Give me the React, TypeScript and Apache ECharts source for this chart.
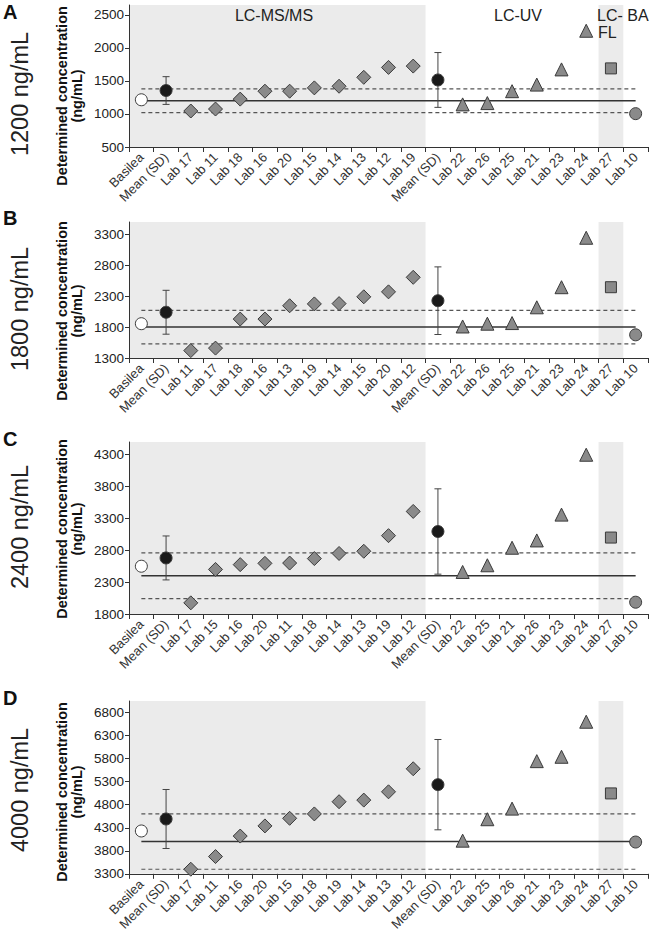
import React, { useEffect, useRef } from "react";
import * as echarts from "echarts";

// ---------- DATA ----------
const catsA = ["Basilea", "Mean (SD)", "Lab 17", "Lab 11", "Lab 18", "Lab 16", "Lab 20", "Lab 15", "Lab 14", "Lab 13", "Lab 12", "Lab 19", "Mean (SD)", "Lab 22", "Lab 26", "Lab 25", "Lab 21", "Lab 23", "Lab 24", "Lab 27", "Lab 10"];
const catsB = ["Basilea", "Mean (SD)", "Lab 11", "Lab 17", "Lab 18", "Lab 16", "Lab 13", "Lab 19", "Lab 14", "Lab 15", "Lab 20", "Lab 12", "Mean (SD)", "Lab 22", "Lab 26", "Lab 25", "Lab 21", "Lab 23", "Lab 24", "Lab 27", "Lab 10"];
const catsC = ["Basilea", "Mean (SD)", "Lab 17", "Lab 15", "Lab 16", "Lab 20", "Lab 11", "Lab 18", "Lab 14", "Lab 13", "Lab 19", "Lab 12", "Mean (SD)", "Lab 22", "Lab 25", "Lab 21", "Lab 26", "Lab 23", "Lab 24", "Lab 27", "Lab 10"];
const catsD = ["Basilea", "Mean (SD)", "Lab 17", "Lab 11", "Lab 16", "Lab 20", "Lab 15", "Lab 18", "Lab 19", "Lab 14", "Lab 13", "Lab 12", "Mean (SD)", "Lab 22", "Lab 25", "Lab 26", "Lab 21", "Lab 23", "Lab 24", "Lab 27", "Lab 10"];

const nominalA = 1200;
const limitsA = [1020, 1380];
const basileaA = 1215;
const msMeanSdA = [1355, 210];
const msValsA = [1045, 1075, 1225, 1345, 1345, 1395, 1420, 1555, 1705, 1725];
const uvMeanSdA = [1515, 415];
const uvValsA = [1145, 1165, 1345, 1445, 1675, 2260];
const flValA = 1690;
const baValA = 1005;
const yTicksA = [500, 1000, 1500, 2000, 2500];

const nominalB = 1800;
const limitsB = [1530, 2070];
const basileaB = 1855;
const msMeanSdB = [2040, 355];
const msValsB = [1420, 1460, 1930, 1930, 2145, 2175, 2180, 2290, 2370, 2605];
const uvMeanSdB = [2227, 547];
const uvValsB = [1810, 1855, 1865, 2120, 2445, 3245];
const flValB = 2445;
const baValB = 1675;
const yTicksB = [1300, 1800, 2300, 2800, 3300];

const nominalC = 2400;
const limitsC = [2040, 2760];
const basileaC = 2550;
const msMeanSdC = [2680, 345];
const msValsC = [1975, 2500, 2575, 2595, 2600, 2670, 2750, 2785, 3030, 3410];
const uvMeanSdC = [3095, 670];
const uvValsC = [2460, 2565, 2840, 2955, 3360, 4300];
const flValC = 3000;
const baValC = 1985;
const yTicksC = [1800, 2300, 2800, 3300, 3800, 4300];

const nominalD = 4000;
const limitsD = [3400, 4600];
const basileaD = 4230;
const msMeanSdD = [4490, 640];
const msValsD = [3400, 3675, 4120, 4340, 4505, 4600, 4865, 4900, 5080, 5580];
const uvMeanSdD = [5235, 980];
const uvValsD = [4020, 4485, 4715, 5745, 5840, 6600];
const flValD = 5045;
const baValD = 3990;
const yTicksD = [3300, 3800, 4300, 4800, 5300, 5800, 6300, 6800];

const panelLetters = ["A", "B", "C", "D"];
const concLabels = ["1200 ng/mL", "1800 ng/mL", "2400 ng/mL", "4000 ng/mL"];
const methodLabels = ["LC-MS/MS", "LC-UV", "LC-", "FL", "BA"];

// ---------- LAYOUT / STYLE ----------
const FONT = "Liberation Sans, Arial, sans-serif";
const GRID_LEFT = 129;
const GRID_W = 519;
const gridTops = [5, 222, 442, 701];
const gridHeights = [142, 136, 172, 173];
const yMaxes = [2650, 3500, 4500, 7050];
const labelCenters = [94, 309, 527, 790];
const letterTops = [2, 208, 429, 688];

const panels = [
  { cats: catsA, nominal: nominalA, limits: limitsA, basilea: basileaA, ms: msMeanSdA, msVals: msValsA, uv: uvMeanSdA, uvVals: uvValsA, fl: flValA, ba: baValA, ticks: yTicksA },
  { cats: catsB, nominal: nominalB, limits: limitsB, basilea: basileaB, ms: msMeanSdB, msVals: msValsB, uv: uvMeanSdB, uvVals: uvValsB, fl: flValB, ba: baValB, ticks: yTicksB },
  { cats: catsC, nominal: nominalC, limits: limitsC, basilea: basileaC, ms: msMeanSdC, msVals: msValsC, uv: uvMeanSdC, uvVals: uvValsC, fl: flValC, ba: baValC, ticks: yTicksC },
  { cats: catsD, nominal: nominalD, limits: limitsD, basilea: basileaD, ms: msMeanSdD, msVals: msValsD, uv: uvMeanSdD, uvVals: uvValsD, fl: flValD, ba: baValD, ticks: yTicksD },
];

const GRAY = "#8a8a8a";
const EDGE = "#3a3a3a";

function buildOption() {
  const grid: any[] = [];
  const xAxis: any[] = [];
  const yAxis: any[] = [];
  const series: any[] = [];
  const graphic: any[] = [];

  panels.forEach((p, i) => {
    const n = p.cats.length;
    grid.push({ left: GRID_LEFT, top: gridTops[i], width: GRID_W, height: gridHeights[i], containLabel: false });
    xAxis.push({
      type: "category",
      gridIndex: i,
      data: p.cats,
      boundaryGap: true,
      axisLine: { show: true, lineStyle: { color: "#333", width: 1 } },
      axisTick: { show: true, alignWithLabel: false, interval: 0, length: 5, lineStyle: { color: "#333" } },
      axisLabel: { interval: 0, rotate: 45, fontSize: 13, color: "#333", fontFamily: FONT, margin: 8 },
      splitLine: { show: false },
    });
    yAxis.push({
      type: "value",
      gridIndex: i,
      min: p.ticks[0],
      max: yMaxes[i],
      interval: 500,
      axisLine: { show: true, lineStyle: { color: "#333", width: 1 } },
      axisTick: { show: true, length: 4, customValues: p.ticks, lineStyle: { color: "#333" } },
      axisLabel: {
        fontSize: 13.5, color: "#222", fontFamily: FONT, margin: 5, customValues: p.ticks,
        formatter: (v: number) => String(v),
      },
      splitLine: { show: false },
    });

    // shaded method regions
    series.push({
      type: "custom",
      xAxisIndex: i,
      yAxisIndex: i,
      silent: true,
      z: 0,
      data: [[0, 11], [19, 19]],
      renderItem: (params: any, api: any) => {
        const s = api.coord([api.value(0), p.ticks[0]]);
        const e = api.coord([api.value(1), p.ticks[0]]);
        const bw = api.size([1, 0])[0];
        const cs = params.coordSys;
        return {
          type: "rect",
          shape: { x: s[0] - bw / 2, y: cs.y, width: e[0] - s[0] + bw, height: cs.height },
          style: { fill: "#ebebeb" },
        };
      },
    });

    // nominal & limit lines
    series.push({
      type: "line", xAxisIndex: i, yAxisIndex: i, z: 1, silent: true, symbol: "none",
      data: [[0, p.nominal], [n - 1, p.nominal]],
      lineStyle: { color: "#333", width: 1.5 },
    });
    p.limits.forEach((lv) => {
      series.push({
        type: "line", xAxisIndex: i, yAxisIndex: i, z: 1, silent: true, symbol: "none",
        data: [[0, lv], [n - 1, lv]],
        lineStyle: { color: "#555", width: 1.2, type: [4, 3] },
      });
    });

    // error bars
    series.push({
      type: "custom",
      xAxisIndex: i,
      yAxisIndex: i,
      z: 2,
      silent: true,
      encode: { x: 0, y: 1 },
      data: [[1, p.ms[0], p.ms[1]], [12, p.uv[0], p.uv[1]]],
      renderItem: (params: any, api: any) => {
        const x = api.value(0);
        const m = api.value(1);
        const sd = api.value(2);
        const t = api.coord([x, m + sd]);
        const b = api.coord([x, m - sd]);
        const cap = 3.5;
        const style = { stroke: "#444", lineWidth: 1 };
        return {
          type: "group",
          children: [
            { type: "line", shape: { x1: t[0], y1: t[1], x2: b[0], y2: b[1] }, style },
            { type: "line", shape: { x1: t[0] - cap, y1: t[1], x2: t[0] + cap, y2: t[1] }, style },
            { type: "line", shape: { x1: b[0] - cap, y1: b[1], x2: b[0] + cap, y2: b[1] }, style },
          ],
        };
      },
    });

    // markers
    const sc = (data: any[], symbol: string, size: number, color: string) => ({
      type: "scatter", xAxisIndex: i, yAxisIndex: i, z: 3, silent: true,
      symbol, symbolSize: size, data,
      itemStyle: { color, borderColor: EDGE, borderWidth: 1, opacity: 1 },
    });
    series.push(sc([[0, p.basilea]], "circle", 12, "#ffffff"));
    series.push(sc([[1, p.ms[0]], [12, p.uv[0]]], "circle", 12, "#1a1a1a"));
    series.push(sc(p.msVals.map((v, k) => [k + 2, v]), "diamond", 14, GRAY));
    series.push(sc(p.uvVals.map((v, k) => [k + 13, v]), "triangle", 13, GRAY));
    series.push(sc([[19, p.fl]], "rect", 11, GRAY));
    series.push(sc([[20, p.ba]], "circle", 12, GRAY));

    // side annotations
    graphic.push({
      type: "text", left: 3, top: letterTops[i], z: 100,
      style: { text: panelLetters[i], fontSize: 20, fontWeight: "bold", fill: "#111", fontFamily: FONT },
    });
    graphic.push({
      type: "text", x: 20, y: labelCenters[i], rotation: Math.PI / 2, z: 100,
      style: { text: concLabels[i], fontSize: 23.5, fill: "#222", fontFamily: FONT, align: "center", verticalAlign: "middle" },
    });
    graphic.push({
      type: "text", x: 62, y: labelCenters[i] + 2, rotation: Math.PI / 2, z: 100,
      style: { text: "Determined concentration", fontSize: 14.5, fontWeight: "bold", fill: "#111", fontFamily: FONT, align: "center", verticalAlign: "middle" },
    });
    graphic.push({
      type: "text", x: 77, y: labelCenters[i] + 2, rotation: Math.PI / 2, z: 100,
      style: { text: "(ng/mL)", fontSize: 14.5, fontWeight: "bold", fill: "#111", fontFamily: FONT, align: "center", verticalAlign: "middle" },
    });
  });

  // method labels in panel A
  const mStyle = { fontSize: 16, fill: "#222", fontFamily: FONT, verticalAlign: "middle" };
  graphic.push({ type: "text", z: 100, x: 274, y: 15, style: { ...mStyle, text: methodLabels[0], align: "center" } });
  graphic.push({ type: "text", z: 100, x: 518, y: 15, style: { ...mStyle, text: methodLabels[1], align: "center" } });
  graphic.push({ type: "text", z: 100, x: 597, y: 15, style: { ...mStyle, text: methodLabels[2], align: "left" } });
  graphic.push({ type: "text", z: 100, x: 598, y: 32, style: { ...mStyle, text: methodLabels[3], align: "left" } });
  graphic.push({ type: "text", z: 100, x: 638, y: 15, style: { ...mStyle, text: methodLabels[4], align: "center" } });

  return {
    animation: false,
    backgroundColor: "#ffffff",
    textStyle: { fontFamily: FONT },
    grid, xAxis, yAxis, series, graphic,
  };
}

export default function App() {
  const ref = useRef<HTMLDivElement>(null);
  useEffect(() => {
    document.body.style.margin = "0";
    if (!ref.current) return;
    const chart = echarts.init(ref.current, undefined, { renderer: "svg" });
    chart.setOption(buildOption() as any);
    return () => chart.dispose();
  }, []);
  return <div ref={ref} style={{ width: 650, height: 933 }} />;
}
